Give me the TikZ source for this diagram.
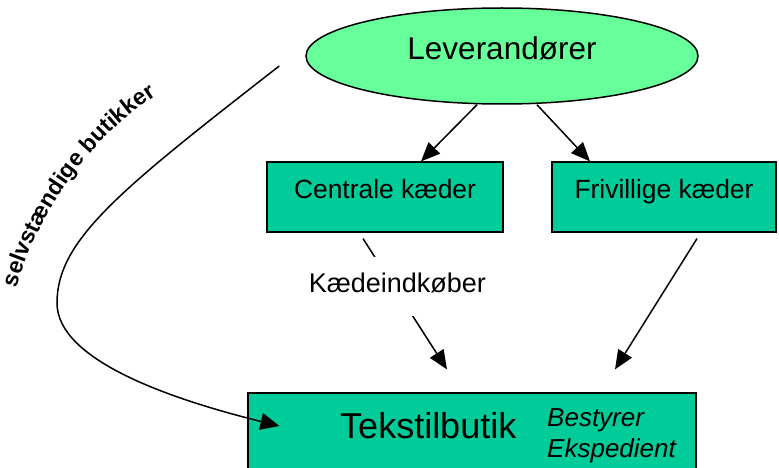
\documentclass[tikz,border=0pt]{standalone}
\usepackage{fontspec}
\setmainfont{Liberation Sans}
\usetikzlibrary{shapes.geometric,arrows.meta,decorations.text}
\definecolor{levgreen}{RGB}{102,255,153}
\definecolor{boxgreen}{RGB}{0,204,153}
\begin{document}
\begin{tikzpicture}[x=1pt,y=-1pt,
  boxnode/.style={draw=black, line width=1.2pt, fill=boxgreen, rectangle, inner sep=0pt},
  arr/.style={line width=1.5pt, -{Triangle[length=19pt,width=16pt]}},
  boxtext/.style={font=\fontsize{26.4}{30}\selectfont, text height=19.3pt, text depth=17.3pt},
  plain/.style={inner sep=0pt, anchor=base west}
]
\clip (0,0) rectangle (779,468);
\useasboundingbox (0,0) rectangle (779,468);

\node[ellipse, draw, line width=1.5pt, fill=levgreen, minimum width=392pt, minimum height=96pt,
      inner sep=0pt, font=\fontsize{31.5}{36}\selectfont, text height=22.6pt, text depth=14.6pt]
      (lev) at (502,56) {Leverandører};

\node[boxnode, boxtext, minimum width=236pt, minimum height=70pt] (cen) at (385,197) {Centrale kæder};
\node[boxnode, boxtext, minimum width=224pt, minimum height=70pt] (fri) at (664,197) {Frivillige kæder};

\node[boxnode, minimum width=448pt, minimum height=90pt] (tek) at (472,438) {};
\node[plain, font=\fontsize{36}{40}\selectfont] (tektxt) at (340,438) {Tekstilbutik};
\node[plain, font=\fontsize{26}{30}\selectfont\itshape] (best) at (547,426) {Bestyrer};
\node[plain, font=\fontsize{26}{30}\selectfont\itshape] (eksp) at (547,457) {Ekspedient};

\draw[arr] ([xshift=-25pt]lev.south) -- ([xshift=36pt]cen.north);
\draw[arr] ([xshift=35pt]lev.south) -- ([xshift=-74pt]fri.north);

\draw[arr] ([shift={(-22,6)}]cen.south) --
  node[pos=0.409, anchor=base, fill=white, inner xsep=2pt, inner ysep=0pt,
       text height=35pt, text depth=24pt, font=\fontsize{27}{30}\selectfont] (kb) {Kædeindkøber}
  ([shift={(-25,-23)}]tek.north);
\draw[arr] ([shift={(33,6)}]fri.south) -- ([shift={(143,-23)}]tek.north);

\draw[line width=1.5pt, -{Triangle[length=19pt,width=17pt]}]
  ([shift={(-26,10)}]lev.west) .. controls (120,190) and (57,240) .. (57,303)
  .. controls (57,360) and (170,399) .. ([shift={(32,-12)}]tek.west);

\path[decorate, decoration={text along path, text align=center,
   text={|\fontsize{23}{26}\selectfont\bfseries|selvstændige butikker}}]
  (16,291) .. controls (38,212) and (88,139) .. (159,94);
\end{tikzpicture}
\end{document}
